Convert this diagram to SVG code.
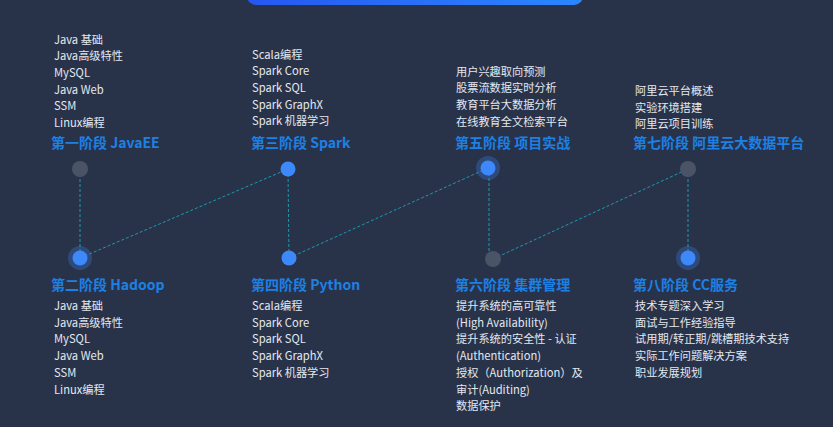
<svg xmlns="http://www.w3.org/2000/svg" width="833" height="427" viewBox="0 0 833 427">
<defs>
<linearGradient id="bar" x1="0" y1="0" x2="1" y2="0">
<stop offset="0" stop-color="#2657f0"/>
<stop offset="1" stop-color="#2a87ff"/>
</linearGradient>
<style>
.t{font-family:"Noto Sans CJK SC","Noto Sans",sans-serif;font-size:14px;font-weight:bold;fill:#1d80e4}
.i{font-family:"Noto Sans CJK SC","Noto Sans",sans-serif;font-size:11.2px;fill:#e4e8ef}
.c{stroke:#1f98a8;stroke-width:1;stroke-dasharray:3 2;fill:none}
.on{fill:#3d88fa}
.off{fill:#4b5466}
.halo{fill:#3d88fa;fill-opacity:0.28}
</style>
</defs>
<rect width="833" height="427" fill="#28334a"/>
<rect x="247" y="-20" width="336" height="25" rx="9" fill="url(#bar)"/>
<g id="connectors">
<line class="c" x1="80" y1="169" x2="80" y2="258"/>
<line class="c" x1="80" y1="258" x2="288" y2="169"/>
<line class="c" x1="288" y1="169" x2="289" y2="258"/>
<line class="c" x1="289" y1="258" x2="488" y2="168"/>
<line class="c" x1="489" y1="168" x2="489" y2="253"/>
<line class="c" x1="493" y1="259" x2="688" y2="169"/>
<line class="c" x1="688" y1="169" x2="688" y2="258"/>
</g>
<g id="stage1">
<circle class="off" cx="80" cy="169" r="8"/>
<text class="t" x="51" y="148">第一阶段 JavaEE</text>
<text class="i" x="54" y="43.5">Java 基础</text>
<text class="i" x="54" y="60.2">Java高级特性</text>
<text class="i" x="54" y="76.9">MySQL</text>
<text class="i" x="54" y="93.6">Java Web</text>
<text class="i" x="54" y="110.3">SSM</text>
<text class="i" x="54" y="127">Linux编程</text>
</g>
<g id="stage2">
<circle class="halo" cx="80" cy="258" r="12"/>
<circle class="on" cx="80" cy="258" r="7.5"/>
<text class="t" x="51" y="290">第二阶段 Hadoop</text>
<text class="i" x="54" y="310">Java 基础</text>
<text class="i" x="54" y="326.7">Java高级特性</text>
<text class="i" x="54" y="343.4">MySQL</text>
<text class="i" x="54" y="360.1">Java Web</text>
<text class="i" x="54" y="376.8">SSM</text>
<text class="i" x="54" y="393.5">Linux编程</text>
</g>
<g id="stage3">
<circle class="on" cx="288" cy="169" r="7.5"/>
<text class="t" x="251" y="148">第三阶段 Spark</text>
<text class="i" x="252" y="58.5">Scala编程</text>
<text class="i" x="252" y="75.2">Spark Core</text>
<text class="i" x="252" y="91.9">Spark SQL</text>
<text class="i" x="252" y="108.6">Spark GraphX</text>
<text class="i" x="252" y="125.3">Spark 机器学习</text>
</g>
<g id="stage4">
<circle class="on" cx="289" cy="258" r="7.5"/>
<text class="t" x="251" y="290">第四阶段 Python</text>
<text class="i" x="252" y="310">Scala编程</text>
<text class="i" x="252" y="326.7">Spark Core</text>
<text class="i" x="252" y="343.4">Spark SQL</text>
<text class="i" x="252" y="360.1">Spark GraphX</text>
<text class="i" x="252" y="376.8">Spark 机器学习</text>
</g>
<g id="stage5">
<circle class="halo" cx="488" cy="168" r="12"/>
<circle class="on" cx="488" cy="168" r="7.5"/>
<text class="t" x="455" y="148">第五阶段 项目实战</text>
<text class="i" x="456" y="75.5">用户兴趣取向预测</text>
<text class="i" x="456" y="92.2">股票流数据实时分析</text>
<text class="i" x="456" y="108.9">教育平台大数据分析</text>
<text class="i" x="456" y="125.6">在线教育全文检索平台</text>
</g>
<g id="stage6">
<circle class="off" cx="493" cy="259" r="8"/>
<text class="t" x="455" y="290">第六阶段 集群管理</text>
<text class="i" x="456" y="310">提升系统的高可靠性</text>
<text class="i" x="456" y="326.7">(High Availability)</text>
<text class="i" x="456" y="343.4">提升系统的安全性 - 认证</text>
<text class="i" x="456" y="360.1">(Authentication)</text>
<text class="i" x="456" y="376.8">授权（Authorization）及</text>
<text class="i" x="456" y="393.5">审计(Auditing)</text>
<text class="i" x="456" y="410.2">数据保护</text>
</g>
<g id="stage7">
<circle class="off" cx="688" cy="169" r="8"/>
<text class="t" x="633" y="148">第七阶段 阿里云大数据平台</text>
<text class="i" x="635" y="95">阿里云平台概述</text>
<text class="i" x="635" y="111.5">实验环境搭建</text>
<text class="i" x="635" y="128">阿里云项目训练</text>
</g>
<g id="stage8">
<circle class="halo" cx="688" cy="258" r="12"/>
<circle class="on" cx="688" cy="258" r="7.5"/>
<text class="t" x="633" y="290">第八阶段 CC服务</text>
<text class="i" x="635" y="310">技术专题深入学习</text>
<text class="i" x="635" y="326.7">面试与工作经验指导</text>
<text class="i" x="635" y="343.4">试用期/转正期/跳槽期技术支持</text>
<text class="i" x="635" y="360.1">实际工作问题解决方案</text>
<text class="i" x="635" y="376.8">职业发展规划</text>
</g>
</svg>
